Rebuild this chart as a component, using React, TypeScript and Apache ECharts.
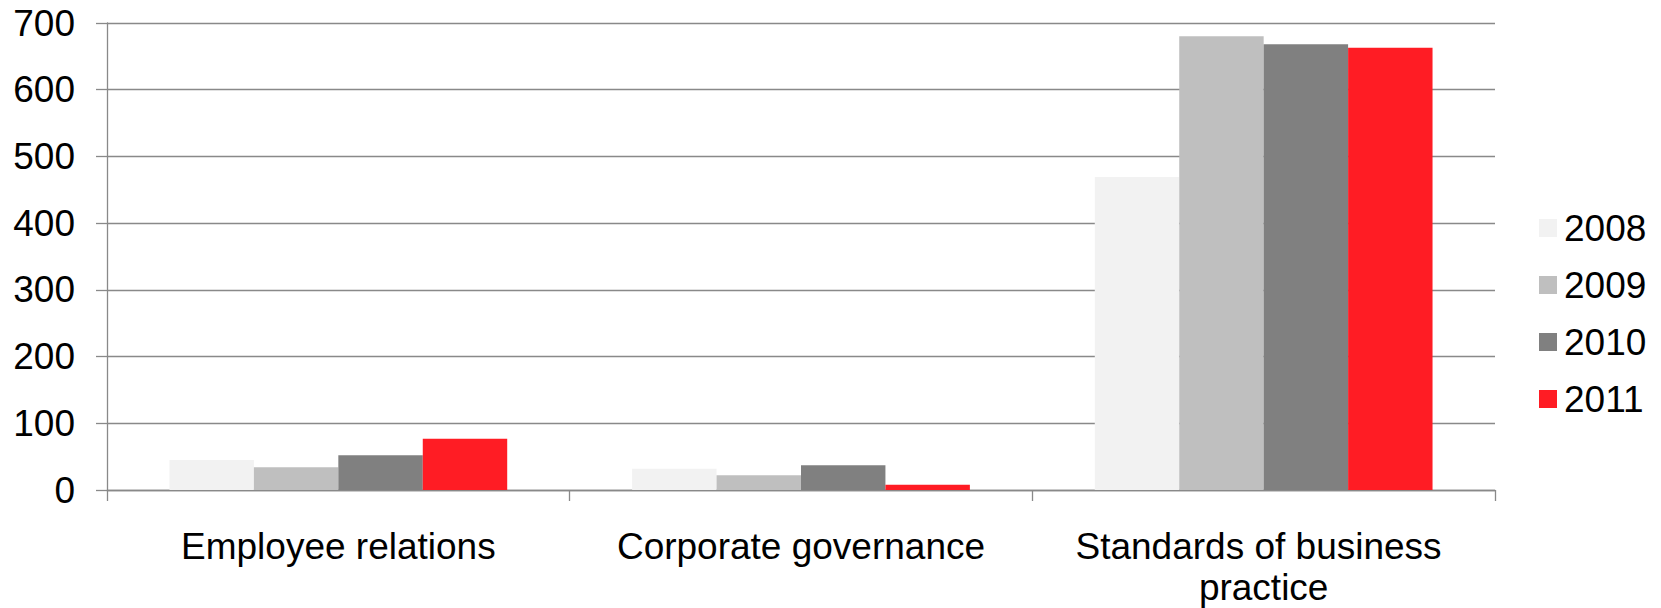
import React, { useEffect, useRef } from "react";
import * as echarts from "echarts";

const categories = ["Employee relations", "Corporate governance", "Standards of business practice"];
const years = ["2008", "2009", "2010", "2011"];
const values2008 = [45, 32, 469];
const values2009 = [34, 22, 680];
const values2010 = [52, 37, 668];
const values2011 = [77, 8, 663];
const yTicks = { min: 0, max: 700, interval: 100 };
const colors = ["#F2F2F2", "#BFBFBF", "#808080", "#FF1C24"];

const FONT = "Liberation Sans, Arial, sans-serif";
const GRID_COLOR = "#898989";

export default function App() {
  const ref = useRef<HTMLDivElement>(null);
  useEffect(() => {
    if (!ref.current) return;
    const chart = echarts.init(ref.current, undefined, { renderer: "svg" });
    const seriesData = [values2008, values2009, values2010, values2011];
    chart.setOption({
      animation: false,
      backgroundColor: "#ffffff",
      textStyle: { fontFamily: FONT },
      grid: { left: 107, right: 166, top: 23, bottom: 117.5, containLabel: false },
      legend: {
        orient: "vertical",
        left: 1539,
        top: 208,
        padding: 0,
        itemWidth: 18,
        itemHeight: 18,
        itemGap: 17,
        icon: "rect",
        data: years,
        textStyle: { fontSize: 37, color: "#000", fontFamily: FONT, lineHeight: 40, padding: [0, 0, 0, 2] },
      },
      xAxis: {
        type: "category",
        data: categories,
        axisLine: { show: true, lineStyle: { color: GRID_COLOR, width: 1.3 } },
        axisTick: { show: true, length: 11, lineStyle: { color: GRID_COLOR, width: 1.3 } },
        axisLabel: {
          fontSize: 37,
          color: "#000",
          fontFamily: FONT,
          margin: 36,
          lineHeight: 41,
          width: 440,
          overflow: "break",
          interval: 0,
        },
      },
      yAxis: {
        type: "value",
        min: yTicks.min,
        max: yTicks.max,
        interval: yTicks.interval,
        axisLine: { show: true, lineStyle: { color: GRID_COLOR, width: 1.3 } },
        axisTick: { show: true, length: 11, lineStyle: { color: GRID_COLOR, width: 1.3 } },
        splitLine: { show: true, lineStyle: { color: GRID_COLOR, width: 1.3 } },
        axisLabel: { fontSize: 37, color: "#000", fontFamily: FONT, margin: 32 },
      },
      series: years.map((y, i) => ({
        name: y,
        type: "bar",
        data: seriesData[i],
        barGap: "0%",
        barCategoryGap: "27%",
        itemStyle: { color: colors[i] },
        z: 3,
      })),
    });
    return () => chart.dispose();
  }, []);
  return (
    <div
      ref={ref}
      style={{ position: "fixed", left: 0, top: 0, width: 1661, height: 608 }}
    />
  );
}
